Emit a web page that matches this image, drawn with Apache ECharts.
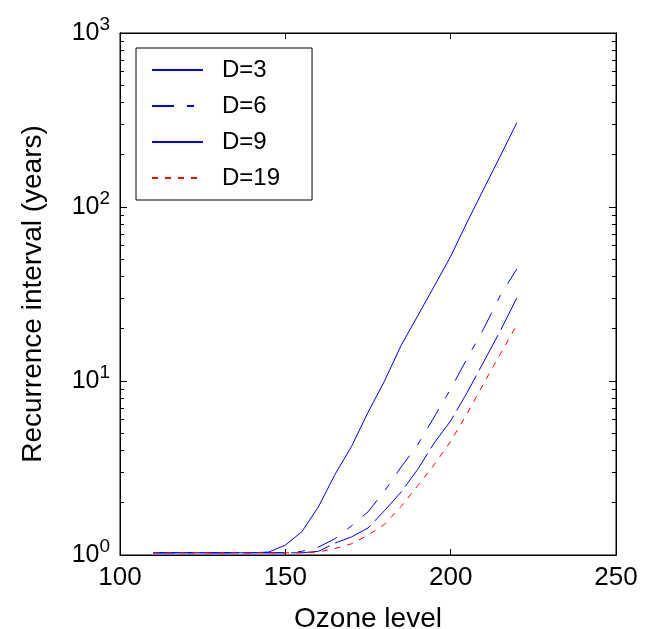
<!DOCTYPE html>
<html>
<head>
<meta charset="utf-8">
<script src="https://cdn.jsdelivr.net/npm/echarts@6/dist/echarts.min.js"></script>
<style>
  html, body { margin: 0; padding: 0; background: #fff; }
  #chart { width: 647px; height: 629px; }
</style>
</head>
<body>
<div id="chart"></div>
<script>
// ozone levels (x) and recurrence intervals in years for each D
var ozone = [110, 115, 120, 125, 130, 135, 140, 145, 150, 155, 160, 165, 170, 175, 180, 185, 190, 195, 200, 205, 210, 215, 220]
var d3 = [1.03, 1.03, 1.03, 1.03, 1.03, 1.03, 1.03, 1.04, 1.14, 1.36, 1.89, 2.9, 4.2, 6.6, 10, 16, 23.6, 35, 52, 82, 127, 196, 305]
var d6 = [1.03, 1.03, 1.03, 1.03, 1.03, 1.03, 1.03, 1.03, 1.03, 1.05, 1.11, 1.24, 1.47, 1.77, 2.33, 3.2, 4.3, 6.2, 9.0, 13.5, 20, 31, 44]
var d9 = [1.03, 1.03, 1.03, 1.03, 1.03, 1.03, 1.03, 1.03, 1.03, 1.03, 1.05, 1.17, 1.27, 1.43, 1.8, 2.3, 3.1, 4.4, 5.9, 8.6, 12.9, 19.4, 30]
var d19 = [1.03, 1.03, 1.03, 1.03, 1.03, 1.03, 1.03, 1.03, 1.03, 1.03, 1.04, 1.09, 1.16, 1.3, 1.5, 1.9, 2.5, 3.3, 4.5, 6.5, 9.7, 14.3, 21]

// tick values of the log axis: decades and the 2..9 steps between them
var majorTicks = [1, 10, 100, 1000]
var minorTicks = [2, 3, 4, 5, 6, 7, 8, 9, 20, 30, 40, 50, 60, 70, 80, 90, 200, 300, 400, 500, 600, 700, 800, 900]

var font = 'Liberation Sans, Arial, sans-serif'

function pairs(ys) {
  return ozone.map(function (x, i) { return [x, ys[i]] })
}

// extra log axes that only carry ticks; their labels exist but are invisible
function tickAxis(pos, ticks, len) {
  return {
    type: 'log', logBase: 10, min: 1, max: 1000, position: pos,
    axisLine: { show: true, lineStyle: { color: '#000' } },
    axisTick: { show: true, inside: true, length: len, interval: 0, customValues: ticks, lineStyle: { color: '#000' } },
    axisLabel: {
      show: true, customValues: ticks, interval: 0, hideOverlap: false,
      fontSize: 1, color: 'rgba(0,0,0,0)',
      formatter: function () { return '.' }
    },
    splitLine: { show: false }
  }
}

var chart = echarts.init(document.getElementById('chart'))

var option = {
  animation: false,
  backgroundColor: '#fff',
  grid: {
    left: 120, right: 31, top: 33, bottom: 74,
    outerBoundsMode: 'none',
    show: true, borderColor: '#000', borderWidth: 1
  },
  xAxis: [
    {
      type: 'value', min: 100, max: 250, interval: 50,
      name: 'Ozone level', nameLocation: 'middle', nameGap: 50,
      nameTextStyle: { fontSize: 28, fontFamily: font, color: '#000' },
      axisLine: { lineStyle: { color: '#000' } },
      axisTick: { inside: true, length: 6, lineStyle: { color: '#000' } },
      axisLabel: { fontSize: 26, fontFamily: font, color: '#000', margin: 10 },
      splitLine: { show: false }
    },
    {
      type: 'value', min: 100, max: 250, interval: 50, position: 'top',
      axisLine: { lineStyle: { color: '#000' } },
      axisTick: { inside: true, length: 6, lineStyle: { color: '#000' } },
      axisLabel: { show: false },
      splitLine: { show: false }
    }
  ],
  yAxis: [
    {
      type: 'log', logBase: 10, min: 1, max: 1000, position: 'left',
      name: 'Recurrence interval (years)', nameLocation: 'middle', nameGap: 73,
      nameTextStyle: { fontSize: 28, fontFamily: font, color: '#000' },
      axisLine: { lineStyle: { color: '#000' } },
      axisTick: { inside: true, length: 7, lineStyle: { color: '#000' } },
      axisLabel: {
        margin: 10,
        formatter: function (v) {
          return '{b|10}{s|' + Math.round(Math.log10(v)) + '}'
        },
        rich: {
          b: { fontSize: 25, fontFamily: font, color: '#000', verticalAlign: 'bottom', lineHeight: 26 },
          s: { fontSize: 19, fontFamily: font, color: '#000', verticalAlign: 'bottom', lineHeight: 20, padding: [0, 0, 12, 0] }
        }
      },
      splitLine: { show: false }
    },
    tickAxis('right', majorTicks, 7),
    tickAxis('left', minorTicks, 4),
    tickAxis('right', minorTicks, 4)
  ],
  legend: {
    left: 136, top: 48,
    orient: 'vertical',
    backgroundColor: '#fff',
    borderColor: '#000', borderWidth: 1, borderRadius: 0,
    padding: [10, 32, 10, 15],
    itemWidth: 51, itemHeight: 14, itemGap: 12,
    itemStyle: { opacity: 0 },
    textStyle: { fontSize: 24, fontFamily: font, color: '#000', padding: [0, 0, 0, 14], lineHeight: 24 },
    data: [
      { name: 'D=3' },
      { name: 'D=6' },
      { name: 'D=9', lineStyle: { type: 'solid' } },
      { name: 'D=19' }
    ]
  },
  series: [
    {
      name: 'D=3', type: 'line', data: pairs(d3), symbol: 'none',
      lineStyle: { color: '#0000ff', width: 1, type: 'solid' }, itemStyle: { color: '#0000ff' }
    },
    {
      name: 'D=6', type: 'line', data: pairs(d6), symbol: 'none',
      lineStyle: { color: '#0000ff', width: 1, type: [22, 13, 7, 13] }, itemStyle: { color: '#0000ff' }
    },
    {
      name: 'D=9', type: 'line', data: pairs(d9), symbol: 'none',
      lineStyle: { color: '#0000ff', width: 1, type: [40, 6] }, itemStyle: { color: '#0000ff' }
    },
    {
      name: 'D=19', type: 'line', data: pairs(d19), symbol: 'none',
      lineStyle: { color: '#ff0000', width: 1, type: [6, 7] }, itemStyle: { color: '#ff0000' }
    }
  ]
}
chart.setOption(option)
</script>
</body>
</html>
